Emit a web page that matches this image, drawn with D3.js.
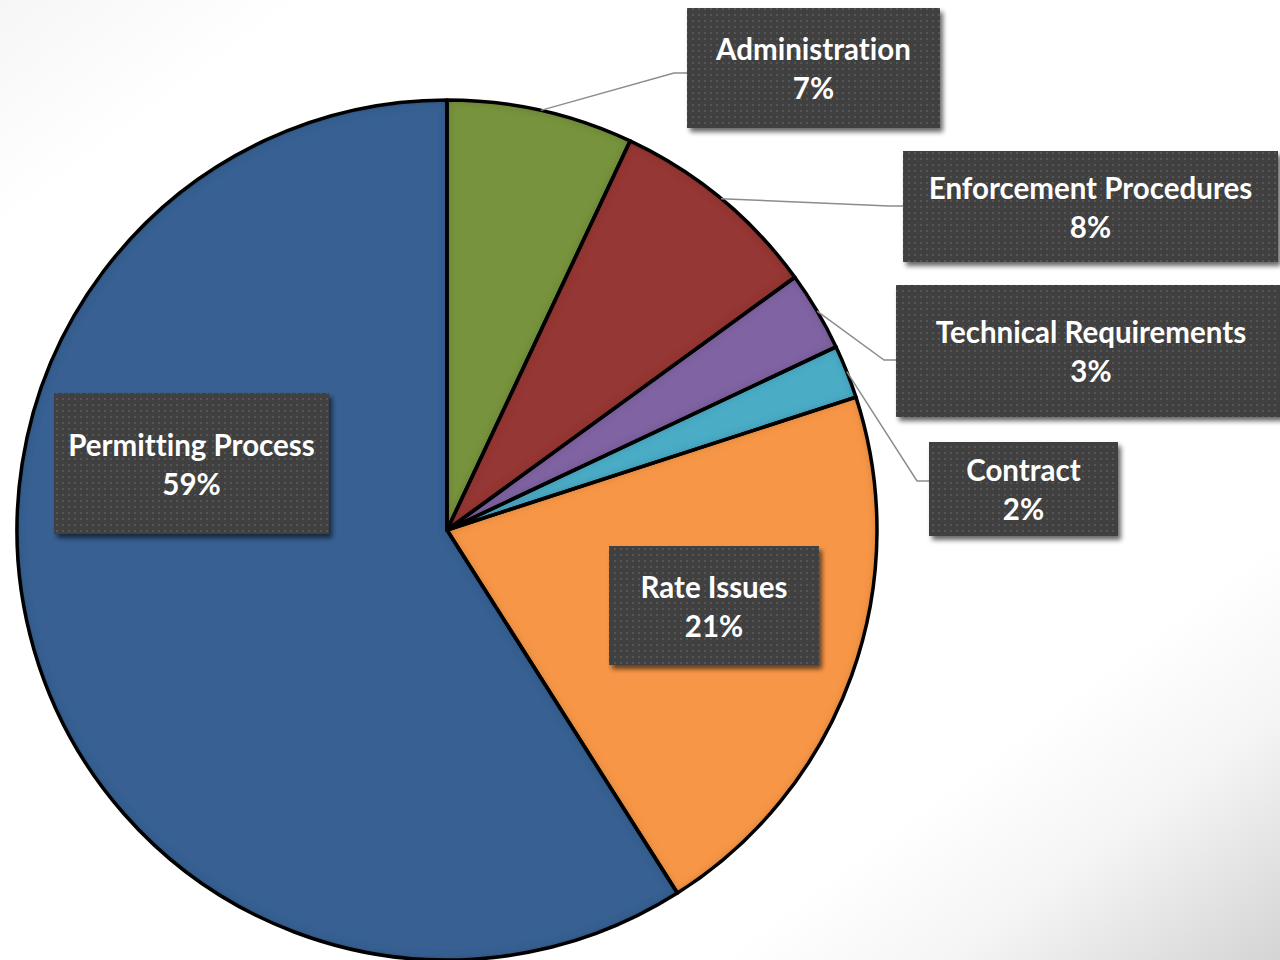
<!DOCTYPE html>
<html>
<head>
<meta charset="utf-8">
<script src="https://cdn.jsdelivr.net/npm/d3@7/dist/d3.min.js"></script>
<style>
  html, body { margin: 0; padding: 0; background: #fff; }
  svg { display: block; }
  .lbl { font-family: Lato, "Open Sans", "DejaVu Sans", sans-serif; font-weight: 700; fill: #fff;
         font-variant-ligatures: none; font-feature-settings: "liga" 0; }
</style>
</head>
<body>
<svg id="chart" width="1280" height="960"></svg>
<script>
// Complaint categories, clockwise from 12 o'clock
const categories = ["Administration", "Enforcement Procedures", "Technical Requirements", "Contract", "Rate Issues", "Permitting Process"];
const shares = [7, 8, 3, 2, 21, 59];
const colors = ["#77933C", "#953735", "#8064A2", "#4BACC6", "#F79646", "#376092"];

// Label box placement (left, top, width, height) and elbow of the leader line, if any
const boxLayout = [
  { x: 687, y: 8,   w: 253, h: 120, elbow: [674, 73] },
  { x: 903, y: 151, w: 375, h: 111, elbow: [889, 206] },
  { x: 896, y: 285, w: 394, h: 132, elbow: [884, 360] },
  { x: 929, y: 442, w: 189, h: 94,  elbow: [917, 481] },
  { x: 609, y: 546, w: 210, h: 119, elbow: null },
  { x: 54,  y: 393, w: 275, h: 141, elbow: null }
];

const W = 1280, H = 960;
const cx = 447, cy = 530, R = 430;

const svg = d3.select("#chart");
const defs = svg.append("defs");

// Page background: white with soft grey towards the corners
const bg = defs.append("linearGradient").attr("id", "bgGrad")
  .attr("x1", 0).attr("y1", 0).attr("x2", 1).attr("y2", 1);
[[0, "#f6f6f6"], [0.12, "#ffffff"], [0.78, "#ffffff"], [0.87, "#f5f5f5"], [1, "#d4d4d4"]]
  .forEach(([o, c]) => bg.append("stop").attr("offset", o).attr("stop-color", c));
svg.append("rect").attr("width", W).attr("height", H).attr("fill", "url(#bgGrad)");

// Inner shadow for pie slices
const inner = defs.append("filter").attr("id", "innerShadow")
  .attr("x", "-5%").attr("y", "-5%").attr("width", "110%").attr("height", "110%");
inner.append("feFlood").attr("flood-color", "#000").attr("flood-opacity", 0.45).attr("result", "flood");
inner.append("feComposite").attr("in", "flood").attr("in2", "SourceAlpha").attr("operator", "out").attr("result", "outside");
inner.append("feGaussianBlur").attr("in", "outside").attr("stdDeviation", 4).attr("result", "blur");
inner.append("feComposite").attr("in", "blur").attr("in2", "SourceAlpha").attr("operator", "in").attr("result", "shadow");
const im = inner.append("feMerge");
im.append("feMergeNode").attr("in", "SourceGraphic");
im.append("feMergeNode").attr("in", "shadow");

// Drop shadow for label boxes
const drop = defs.append("filter").attr("id", "dropShadow")
  .attr("x", "-10%").attr("y", "-10%").attr("width", "125%").attr("height", "135%");
drop.append("feGaussianBlur").attr("in", "SourceAlpha").attr("stdDeviation", 2.5).attr("result", "b");
drop.append("feOffset").attr("in", "b").attr("dx", 3).attr("dy", 4).attr("result", "o");
drop.append("feComponentTransfer").attr("in", "o").attr("result", "s")
  .append("feFuncA").attr("type", "linear").attr("slope", 0.6);
const dm = drop.append("feMerge");
dm.append("feMergeNode").attr("in", "s");
dm.append("feMergeNode").attr("in", "SourceGraphic");

// Dotted texture for label boxes
const pat = defs.append("pattern").attr("id", "dots").attr("patternUnits", "userSpaceOnUse")
  .attr("width", 6).attr("height", 6);
pat.append("rect").attr("width", 6).attr("height", 6).attr("fill", "#3f3f3f");
pat.append("rect").attr("x", 2).attr("y", 2).attr("width", 2).attr("height", 2).attr("fill", "#555555");

const data = categories.map((c, i) => ({ name: c, value: shares[i], color: colors[i], box: boxLayout[i] }));

const pie = d3.pie().sort(null).value(d => d.value).startAngle(0).endAngle(2 * Math.PI);
const arcs = pie(data);
const arc = d3.arc().innerRadius(0).outerRadius(R);

const g = svg.append("g").attr("transform", `translate(${cx},${cy})`);

// Slice fills with inner shading
g.selectAll("path.fill").data(arcs).join("path")
  .attr("class", "fill")
  .attr("d", arc)
  .attr("fill", d => d.data.color)
  .attr("filter", "url(#innerShadow)");

// Slice outlines
g.selectAll("path.edge").data(arcs).join("path")
  .attr("class", "edge")
  .attr("d", arc)
  .attr("fill", "none")
  .attr("stroke", "#000")
  .attr("stroke-width", 3.5)
  .attr("stroke-linejoin", "round");

// Leader lines from the slice rim to the outside labels
const rimPoint = d => {
  const a = (d.startAngle + d.endAngle) / 2;
  return [cx + R * Math.sin(a), cy - R * Math.cos(a)];
};
svg.append("g").selectAll("polyline").data(arcs.filter(d => d.data.box.elbow)).join("polyline")
  .attr("points", d => {
    const p = rimPoint(d), e = d.data.box.elbow;
    return [p, e, [d.data.box.x, e[1]]].map(q => q.join(",")).join(" ");
  })
  .attr("fill", "none")
  .attr("stroke", "#8c8c8c")
  .attr("stroke-width", 1.5);

// Label boxes
const lbl = svg.append("g").selectAll("g").data(arcs).join("g");
lbl.append("rect")
  .attr("x", d => d.data.box.x).attr("y", d => d.data.box.y)
  .attr("width", d => d.data.box.w).attr("height", d => d.data.box.h)
  .attr("fill", "url(#dots)")
  .attr("filter", "url(#dropShadow)");

const fmt = d3.format(".0%");
const textX = d => d.data.box.x + d.data.box.w / 2 - (d.data.name === "Technical Requirements" ? 2 : 0);
const t = lbl.append("text").attr("class", "lbl")
  .attr("text-anchor", "middle")
  .attr("font-size", 29.5);
t.append("tspan")
  .attr("x", textX)
  .attr("y", d => d.data.box.y + d.data.box.h / 2 - 8)
  .text(d => d.data.name);
t.append("tspan")
  .attr("x", textX)
  .attr("y", d => d.data.box.y + d.data.box.h / 2 + 31)
  .text(d => fmt(d.data.value / 100));
</script>
</body>
</html>
